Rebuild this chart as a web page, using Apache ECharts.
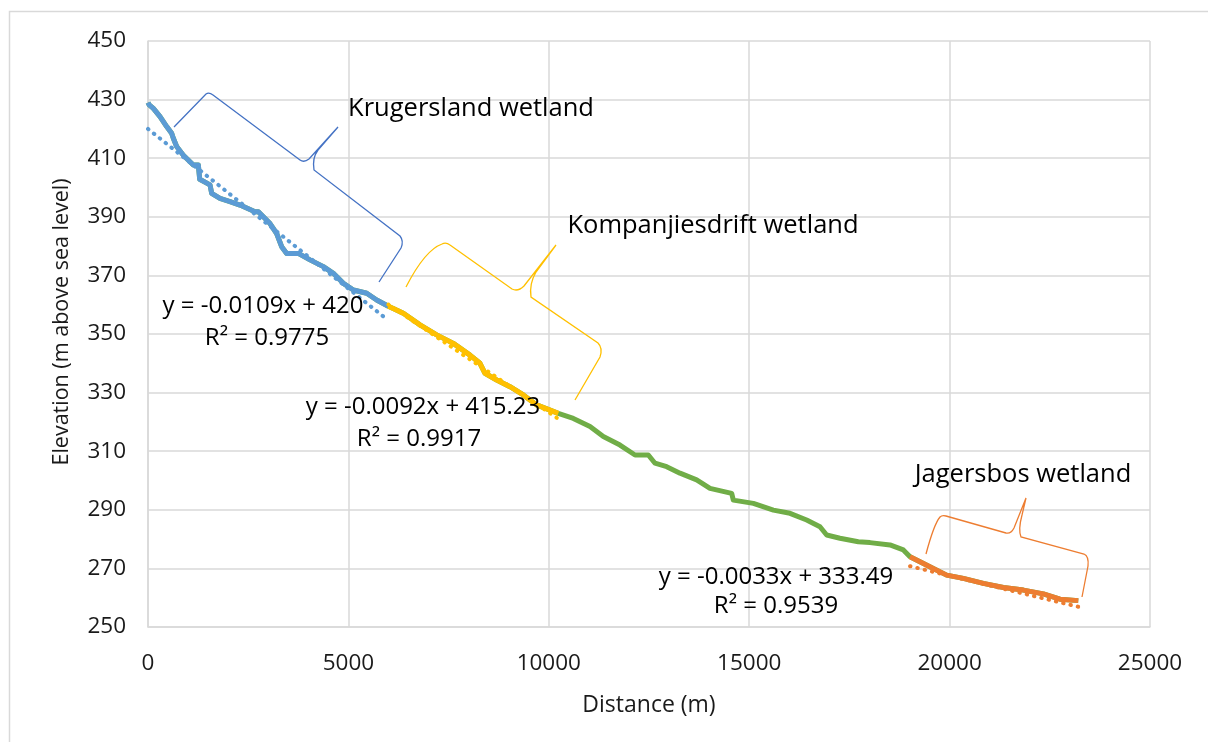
<!DOCTYPE html>
<html>
<head>
<meta charset="utf-8">
<script src="https://cdn.jsdelivr.net/npm/echarts@6/dist/echarts.min.js"></script>
<style>
html,body{margin:0;padding:0;background:#fff;}
#chart{width:1208px;height:742px;}
</style>
</head>
<body>
<div id="chart"></div>
<script>
// ---- data ----
const profileDistance = [0,30,133,300,466,590,632,715,882,1130,1256,1290,1547,1589,1796,2046,2295,2670,2753,3044,3210,3335,3460,3750,4042,4375,4624,4874,5124,5457,5706,5997,6371,6786,7202,7618,8034,8283,8408,8700,9032,9364,9697,10237,10612,11028,11360,11776,12151,12483,12650,12941,13273,13689,14022,14563,14604,15104,15603,16018,16434,16766,16933,17265,17722,18014,18513,18846,19012,19261,19594,19927,20343,20842,21341,21841,22340,22754,23211];
const profileElevation = [429,428.2,427,424.2,420.8,418.5,416.8,414,411,407.7,407.7,402.8,400.9,398,396.3,395.2,394,391.7,391.7,387.7,384.3,379.8,377.5,377.5,375.3,373,370.7,367.3,365,363.9,361.6,359.5,357.1,353.1,349.7,346.8,342.8,340,336.6,334.3,332,329.2,325.8,322.9,321.2,318.4,315,312.1,308.7,308.7,305.9,304.7,302.5,300.2,297.3,295.6,293.3,292.2,289.9,288.8,286.5,284.2,281.4,280.3,279.1,278.8,278,276.3,274,272.3,270,267.7,266.6,264.9,263.5,262.6,261.3,259.5,259];
const wetlandNames = ['Krugersland wetland','Kompanjiesdrift wetland','Jagersbos wetland'];
const wetlandRanges = [[0,5997],[5997,10237],[19012,23211]];
const trendSlopes = [-0.0109,-0.0092,-0.0033];
const trendIntercepts = [420,415.23,333.49];
const trendR2 = ['0.9775','0.9917','0.9539'];
const xTicks = [0,5000,10000,15000,20000,25000];
const yTicks = [250,270,290,310,330,350,370,390,410,430,450];

// ---- build ----
const FONT = '"Open Sans", sans-serif';
const colors = ['#5B9BD5','#FFC000','#ED7D31'];
const braceColors = ['#4472C4','#FFC000','#ED7D31'];
const green = '#70AD47';
const profile = profileDistance.map((d,i)=>[d,profileElevation[i]]);
function subset(r){ return profile.filter(p=>p[0]>=r[0] && p[0]<=r[1]); }
function fmtEq(i){
  return 'y = ' + trendSlopes[i].toFixed(4) + 'x + ' + trendIntercepts[i];
}

const bracePaths = [
  'M174,127 L206,94 Q209,92 213,95 L300,160 Q304,163 309,159 L338,127 L318,150 Q312,158 314,170 L400,236 Q404,241 401,248 L379,282',
  'M406,287 Q425,250 442,244 Q446,242 450,245 L512,289 Q518,292 524,286 L556,245 L536,272 Q529,284 531,297 L598,343 Q603,348 600,357 L575,400',
  'M926,554 Q934,524 940,517 Q942,515 946,516 L1006,533 Q1011,534 1014,528 L1026,498 L1022,515 Q1018,530 1021,537 L1084,554 Q1089,556 1088,566 L1082,597'
];

const series = [{
  type:'line', name:'Profile', data:profile, showSymbol:false, z:2,
  lineStyle:{color:green,width:5,join:'round'}, silent:true
}];
wetlandRanges.forEach((r,i)=>{
  series.push({type:'line', name:wetlandNames[i], data:subset(r), showSymbol:false, z:3,
    lineStyle:{color:colors[i],width:5,join:'round'}, silent:true});
});
wetlandRanges.forEach((r,i)=>{
  series.push({type:'line', name:wetlandNames[i]+' trend', showSymbol:false, z:4, silent:true,
    data:[[r[0],trendSlopes[i]*r[0]+trendIntercepts[i]],[r[1],trendSlopes[i]*r[1]+trendIntercepts[i]]],
    lineStyle:{color:colors[i],width:4,type:[0.5,7],cap:'round'}});
});
series.push({
  type:'custom', name:'braces', silent:true, z:10, data:[0],
  renderItem:function(){
    return {type:'group', children: bracePaths.map((p,i)=>({
      type:'path', shape:{pathData:p},
      style:{fill:'none', stroke:braceColors[i], lineWidth:1.3}
    }))};
  }
});

const labelPos = [[471,109],[713,226],[1023,475]];
const eqPos = [[263,306,267,338],[423,407,419,439],[776,577,776,606]];

const graphic = [{
  type:'rect', shape:{x:9.5,y:11.5,width:1400,height:1000}, z:0,
  style:{fill:'none',stroke:'#d9d9d9',lineWidth:1.5}, silent:true
}];
wetlandNames.forEach((n,i)=>{
  graphic.push({type:'text', x:labelPos[i][0], y:labelPos[i][1], z:10,
    style:{text:n, fill:'#000', font:'25.5px '+FONT, textAlign:'center', textVerticalAlign:'middle'}});
});
eqPos.forEach((p,i)=>{
  graphic.push({type:'text', x:p[0], y:p[1], z:11,
    style:{text:fmtEq(i), fill:'#000', font:'24px '+FONT, textAlign:'center', textVerticalAlign:'middle'}});
  graphic.push({type:'text', x:p[2], y:p[3], z:11,
    style:{text:'R² = '+trendR2[i], fill:'#000', font:'24px '+FONT, textAlign:'center', textVerticalAlign:'middle'}});
});

const chart = echarts.init(document.getElementById('chart'), null, {renderer:'canvas'});
chart.setOption({
  backgroundColor:'#fff',
  animation:false,
  grid:{left:148, top:41, right:58, bottom:115, containLabel:false},
  xAxis:{
    type:'value', min:xTicks[0], max:xTicks[xTicks.length-1], interval:5000,
    name:'Distance (m)', nameLocation:'middle', nameGap:67,
    nameTextStyle:{fontFamily:FONT, fontSize:23, color:'#1a1a1a'},
    axisLine:{show:true, lineStyle:{color:'#d9d9d9', width:1.5}},
    axisTick:{show:false},
    axisLabel:{fontFamily:FONT, fontSize:22.5, color:'#1a1a1a', margin:25, formatter:v=>String(v)},
    splitLine:{show:true, lineStyle:{color:'#d9d9d9', width:1.5}}
  },
  yAxis:{
    type:'value', min:yTicks[0], max:yTicks[yTicks.length-1], interval:20,
    name:'Elevation (m above sea level)', nameLocation:'middle', nameGap:75,
    nameTextStyle:{fontFamily:FONT, fontSize:21.5, color:'#1a1a1a', padding:[0,0,0,24]},
    axisLine:{show:true, lineStyle:{color:'#d9d9d9', width:1.5}},
    axisTick:{show:false},
    axisLabel:{fontFamily:FONT, fontSize:22.5, color:'#1a1a1a', margin:22, formatter:v=>String(v)},
    splitLine:{show:true, lineStyle:{color:'#d9d9d9', width:1.5}}
  },
  series:series,
  graphic:graphic
});
</script>
</body>
</html>
